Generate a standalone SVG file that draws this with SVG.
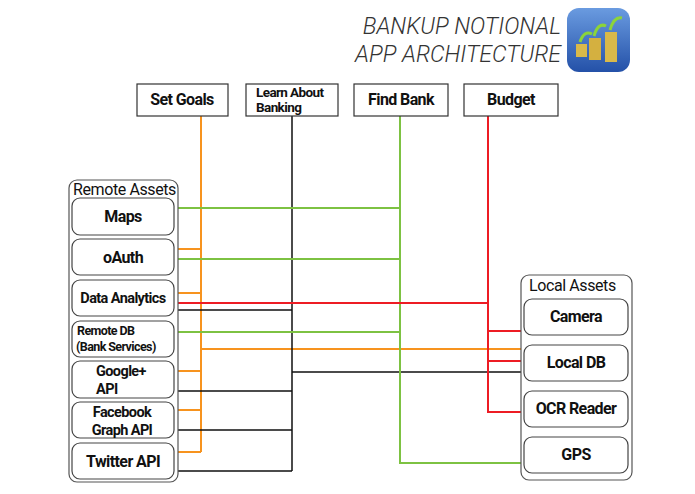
<svg xmlns="http://www.w3.org/2000/svg" width="695" height="494" viewBox="0 0 695 494">
<defs>
<style>
.top{fill:#fff;stroke:#333;stroke-width:1.2}
.grp{fill:#fff;stroke:#555;stroke-width:1.2}
.nd{fill:#fff;stroke:#444;stroke-width:1.2}
.t{font-family:Roboto,"Liberation Sans",sans-serif;font-weight:bold;font-size:16px;fill:#111;text-anchor:middle;letter-spacing:-0.6px}
.t2{font-size:14.5px}
.gt{font-family:Roboto,"Liberation Sans",sans-serif;font-size:16px;fill:#111;letter-spacing:-0.4px}
.ti{font-family:Roboto,"Liberation Sans",sans-serif;font-weight:300;font-style:italic;font-size:23px;fill:#333;text-anchor:end}
.o{stroke:#f7931e;stroke-width:2;fill:none}
.g{stroke:#7dc242;stroke-width:2;fill:none}
.r{stroke:#ed1c24;stroke-width:2;fill:none}
.k{stroke:#111;stroke-width:1.5;fill:none}
</style>
<linearGradient id="ib" x1="0" y1="0" x2="0" y2="1"><stop offset="0" stop-color="#6a9be0"/><stop offset="1" stop-color="#2451a8"/></linearGradient>
</defs>
<g id="title">
<text class="ti" x="561" y="34">BANKUP NOTIONAL</text>
<text class="ti" x="561" y="62">APP ARCHITECTURE</text>
<rect x="567" y="8" width="63" height="64" rx="12" fill="url(#ib)"/>
<rect x="576" y="44" width="11" height="13" fill="#d9b94a"/>
<rect x="589" y="38" width="12" height="22" fill="#d4b040"/>
<rect x="605" y="32" width="12" height="30" fill="#d9b94a"/>
<path d="M580 42 Q584 30 592 34 M594 36 Q598 22 606 26 M610 30 Q614 16 622 18" stroke="#8cd43a" stroke-width="3" fill="none"/>
</g>
<g id="connectors">
<path class="o" d="M201 116V452 M174 249H201 M174 293H201 M201 349H525 M174 371H201 M174 410H201 M174 452H201"/>
<path class="k" d="M292 116V471 M174 310H292 M174 391H292 M174 430H292 M174 471H292 M292 372H525"/>
<path class="g" d="M400 116V463H525 M174 208H400 M174 259H400 M174 332H400"/>
<path class="r" d="M488 116V412H525 M174 303H488 M488 331H525 M488 361H525"/>
</g>
<g id="set-goals"><rect class="top" x="137" y="84" width="91" height="32"/><text class="t" x="182" y="105">Set Goals</text></g>
<g id="learn-about-banking"><rect class="top" x="246" y="84" width="92" height="32"/><text class="t" x="256" y="97" style="text-anchor:start;font-size:13.5px">Learn About</text><text class="t" x="256" y="112" style="text-anchor:start;font-size:13.5px">Banking</text></g>
<g id="find-bank"><rect class="top" x="354" y="84" width="94" height="32"/><text class="t" x="401" y="105">Find Bank</text></g>
<g id="budget"><rect class="top" x="464" y="84" width="94" height="32"/><text class="t" x="511" y="105">Budget</text></g>
<g id="remote-assets"><rect class="grp" x="69" y="180" width="109" height="302" rx="8"/><text class="gt" x="73" y="195">Remote Assets</text></g>
<g id="maps"><rect class="nd" x="72" y="198" width="102" height="37" rx="8"/><text class="t" x="123" y="222">Maps</text></g>
<g id="oauth"><rect class="nd" x="72" y="239" width="102" height="36" rx="8"/><text class="t" x="123" y="263">oAuth</text></g>
<g id="data-analytics"><rect class="nd" x="72" y="280" width="102" height="36" rx="8"/><text class="t" x="123" y="303" style="font-size:14.5px">Data Analytics</text></g>
<g id="remote-db"><rect class="nd" x="72" y="321" width="102" height="36" rx="8"/><text class="t" x="77" y="335" style="text-anchor:start;font-size:12.5px">Remote DB</text><text class="t" x="76" y="351" style="text-anchor:start;font-size:12.5px">(Bank Services)</text></g>
<g id="google-api"><rect class="nd" x="72" y="361" width="102" height="37" rx="8"/><text class="t t2" x="96" y="376" style="text-anchor:start">Google+</text><text class="t t2" x="96" y="394" style="text-anchor:start">API</text></g>
<g id="facebook-api"><rect class="nd" x="72" y="402" width="102" height="36" rx="8"/><text class="t t2" x="122" y="417">Facebook</text><text class="t t2" x="122" y="435">Graph API</text></g>
<g id="twitter-api"><rect class="nd" x="72" y="443" width="102" height="36" rx="8"/><text class="t" x="123" y="467">Twitter API</text></g>
<g id="local-assets"><rect class="grp" x="521" y="275" width="111" height="205" rx="8"/><text class="gt" x="529" y="291">Local Assets</text></g>
<g id="camera"><rect class="nd" x="524" y="299" width="104" height="36" rx="8"/><text class="t" x="576" y="322">Camera</text></g>
<g id="local-db"><rect class="nd" x="524" y="345" width="104" height="36" rx="8"/><text class="t" x="576" y="368">Local DB</text></g>
<g id="ocr-reader"><rect class="nd" x="524" y="391" width="104" height="36" rx="8"/><text class="t" x="576" y="414">OCR Reader</text></g>
<g id="gps"><rect class="nd" x="524" y="437" width="104" height="36" rx="8"/><text class="t" x="576" y="460">GPS</text></g>
</svg>
